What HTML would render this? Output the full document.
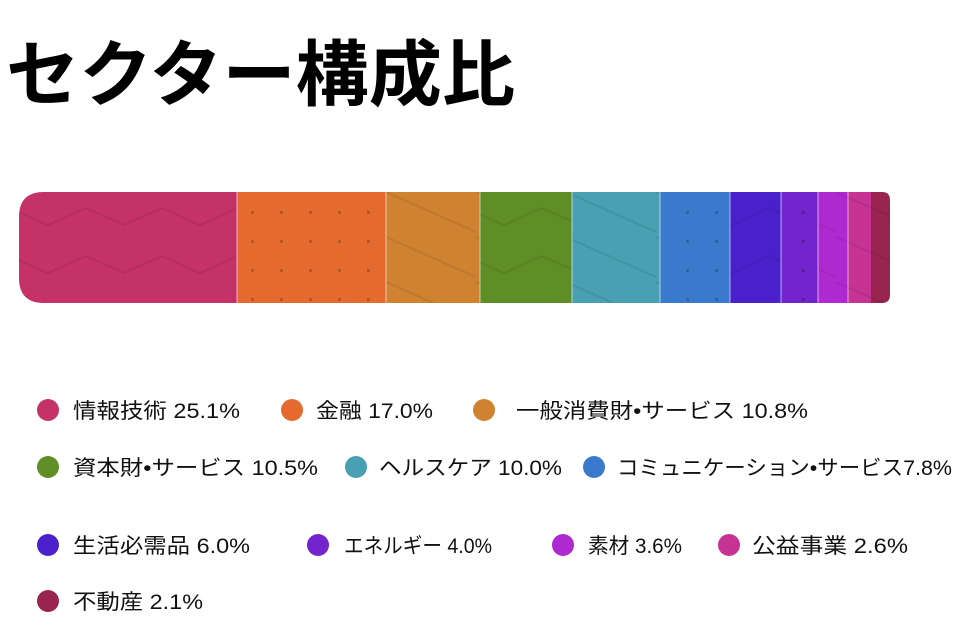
<!DOCTYPE html>
<html><head><meta charset="utf-8"><style>
body{margin:0;background:#fff;}
svg text{font-family:"Liberation Sans","Noto Sans CJK JP",sans-serif;}
</style></head><body>
<svg width="964" height="626" xmlns="http://www.w3.org/2000/svg">
<text x="6" y="100" font-size="72" font-weight="bold" fill="#000" textLength="509" lengthAdjust="spacingAndGlyphs">セクター構成比</text>
<defs>
<clipPath id="bar"><path d="M44,192 H882 Q890,192 890,200 V295 Q890,303 882,303 H44 Q19,303 19,278 V217 Q19,192 44,192 Z"/></clipPath>
<pattern id="zig" width="76" height="112" patternUnits="userSpaceOnUse" x="19" y="192"><path d="M0,20 L29,33 L67,16 L76,20 M0,68 L29,81 L67,64 L76,68" stroke="#000" stroke-opacity="0.08" stroke-width="2" fill="none"/></pattern>
<pattern id="dot" width="29" height="29" patternUnits="userSpaceOnUse" x="238" y="194"><rect x="13" y="17" width="3" height="3" fill="#000" fill-opacity="0.2"/></pattern>
<pattern id="diag" width="90" height="45" patternUnits="userSpaceOnUse" x="386" y="192"><path d="M0,0 L90,40 M0,45 L90,85 M0,-45 L90,-5" stroke="#000" stroke-opacity="0.08" stroke-width="2" fill="none"/></pattern>
</defs>
<g clip-path="url(#bar)">
<rect x="19" y="192" width="218" height="111" fill="#c43267"/>
<rect x="237" y="192" width="149" height="111" fill="#e46a2f"/>
<rect x="386" y="192" width="94" height="111" fill="#cf8230"/>
<rect x="480" y="192" width="92" height="111" fill="#5f8e27"/>
<rect x="572" y="192" width="88" height="111" fill="#48a0b2"/>
<rect x="660" y="192" width="70" height="111" fill="#3a7acd"/>
<rect x="730" y="192" width="51" height="111" fill="#4a1fcc"/>
<rect x="781" y="192" width="37" height="111" fill="#7424cc"/>
<rect x="818" y="192" width="30" height="111" fill="#ae2ad0"/>
<rect x="848" y="192" width="23" height="111" fill="#c63393"/>
<rect x="871" y="192" width="19" height="111" fill="#9a2450"/>
<rect x="19" y="192" width="218" height="111" fill="url(#zig)"/>
<rect x="480" y="192" width="92" height="111" fill="url(#zig)"/>
<rect x="730" y="192" width="51" height="111" fill="url(#zig)"/>
<rect x="237" y="192" width="149" height="111" fill="url(#dot)"/>
<rect x="660" y="192" width="70" height="111" fill="url(#dot)"/>
<rect x="781" y="192" width="37" height="111" fill="url(#dot)"/>
<rect x="386" y="192" width="94" height="111" fill="url(#diag)"/>
<rect x="572" y="192" width="88" height="111" fill="url(#diag)"/>
<rect x="818" y="192" width="72" height="111" fill="url(#diag)"/>
<g stroke="#fff" stroke-opacity="0.3" stroke-width="2">
<line x1="237" y1="192" x2="237" y2="303"/><line x1="386" y1="192" x2="386" y2="303"/><line x1="480" y1="192" x2="480" y2="303"/><line x1="572" y1="192" x2="572" y2="303"/><line x1="660" y1="192" x2="660" y2="303"/><line x1="730" y1="192" x2="730" y2="303"/><line x1="781" y1="192" x2="781" y2="303"/><line x1="818" y1="192" x2="818" y2="303"/><line x1="848" y1="192" x2="848" y2="303"/>
</g>
</g>
<g font-size="21" fill="#111">
<circle cx="48" cy="410" r="11" fill="#c43267"/><text x="73" y="418" textLength="167" lengthAdjust="spacingAndGlyphs">情報技術 25.1%</text>
<circle cx="292" cy="410" r="11" fill="#e46a2f"/><text x="316" y="418" textLength="117" lengthAdjust="spacingAndGlyphs">金融 17.0%</text>
<circle cx="484" cy="410" r="11" fill="#cf8230"/><text x="516" y="418" textLength="292" lengthAdjust="spacingAndGlyphs">一般消費財•サービス 10.8%</text>
<circle cx="48" cy="467" r="11" fill="#5f8e27"/><text x="73" y="475" textLength="245" lengthAdjust="spacingAndGlyphs">資本財•サービス 10.5%</text>
<circle cx="356" cy="467" r="11" fill="#48a0b2"/><text x="379" y="475" textLength="183" lengthAdjust="spacingAndGlyphs">ヘルスケア 10.0%</text>
<circle cx="594" cy="467" r="11" fill="#3a7acd"/><text x="617" y="475" textLength="335" lengthAdjust="spacingAndGlyphs">コミュニケーション•サービス7.8%</text>
<circle cx="48" cy="545" r="11" fill="#4a1fcc"/><text x="73" y="553" textLength="177" lengthAdjust="spacingAndGlyphs">生活必需品 6.0%</text>
<circle cx="318" cy="545" r="11" fill="#7424cc"/><text x="344" y="553" textLength="148" lengthAdjust="spacingAndGlyphs">エネルギー 4.0%</text>
<circle cx="563" cy="545" r="11" fill="#ae2ad0"/><text x="588" y="553" textLength="94" lengthAdjust="spacingAndGlyphs">素材 3.6%</text>
<circle cx="729" cy="545" r="11" fill="#c63393"/><text x="752" y="553" textLength="156" lengthAdjust="spacingAndGlyphs">公益事業 2.6%</text>
<circle cx="48" cy="601" r="11" fill="#9a2450"/><text x="73" y="609" textLength="130" lengthAdjust="spacingAndGlyphs">不動産 2.1%</text>
</g>
</svg>
</body></html>
